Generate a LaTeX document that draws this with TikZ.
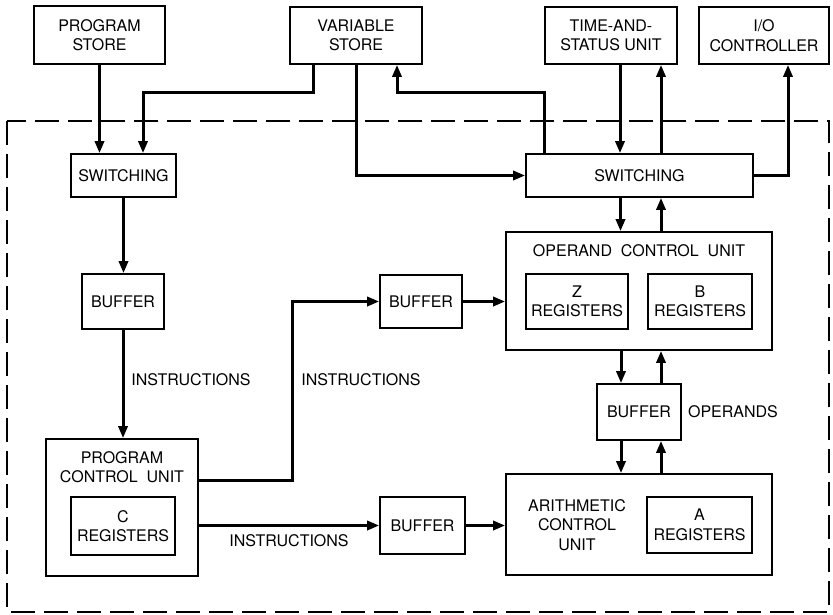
\documentclass[tikz,border=0pt]{standalone}
\usepackage{fontspec}
\setmainfont{TeX Gyre Heros}
\usetikzlibrary{arrows.meta}

\begin{document}
\begin{tikzpicture}[x=1pt,y=-1pt,
		box/.style={draw, line width=1.6pt, inner sep=0pt, align=center, font=\fontsize{16}{19.5}\selectfont},
		txt/.style={inner sep=0pt, align=center, font=\fontsize{16}{19.5}\selectfont},
		flow/.style={line width=3pt, -{Triangle[length=12pt,width=9pt]}},
		frame/.style={line width=1.5pt, dash pattern=on 24pt off 9pt}]
		\useasboundingbox (0,0) rectangle (833,614);

		% outer dashed frame
		\draw[frame] (7,121) rectangle (829,612);

		% stores and units outside the frame
		\node[box, minimum width=131pt, minimum height=58pt] (pstore) at (99.5,35) {PROGRAM\\STORE};
		\node[box, minimum width=132pt, minimum height=57pt] (vstore) at (356,35.5) {VARIABLE\\STORE};
		\node[box, minimum width=132pt, minimum height=57pt] (tsu) at (611,35.5) {TIME-AND-\\STATUS UNIT};
		\node[box, minimum width=130pt, minimum height=57pt] (ioc) at (764,35.5) {I/O\\CONTROLLER};

		% switching
		\node[box, minimum width=105pt, minimum height=43pt] (swl) at (123.5,175.5) {SWITCHING};
		\node[box, minimum width=227pt, minimum height=43pt] (swr) at (639.5,175.5) {SWITCHING};

		% buffers
		\node[box, minimum width=82pt, minimum height=55pt] (bufl) at (123,301.5) {BUFFER};
		\node[box, minimum width=82pt, minimum height=53pt] (bufm) at (421,301.5) {BUFFER};
		\node[box, minimum width=85pt, minimum height=57pt] (bufb) at (422.5,525.5) {BUFFER};
		\node[box, minimum width=84pt, minimum height=56pt] (bufo) at (639,412) {BUFFER};

		% control units
		\node[box, minimum width=266pt, minimum height=118pt] (ocu) at (639,291) {};
		\node[txt] (ocut) at (639,251) {OPERAND\ \ CONTROL\ \ UNIT};
		\node[box, minimum width=102pt, minimum height=55pt] (zreg) at (577,301.5) {Z\\REGISTERS};
		\node[box, minimum width=104pt, minimum height=55pt] (breg) at (700,301.5) {B\\REGISTERS};

		\node[box, minimum width=266pt, minimum height=101pt] (acu) at (639,524.5) {};
		\node[txt] (acut) at (577,525) {ARITHMETIC\\CONTROL\\UNIT};
		\node[box, minimum width=105pt, minimum height=56pt] (areg) at (699.5,525) {A\\REGISTERS};

		\node[box, minimum width=152pt, minimum height=137pt] (pcu) at (122,507.5) {};
		\node[txt] (pcut) at (122,467) {PROGRAM\\CONTROL\ \ UNIT};
		\node[box, minimum width=104pt, minimum height=58pt] (creg) at (123,526) {C\\REGISTERS};

		% labels
		\node[txt] (ins1) at (191,380) {INSTRUCTIONS};
		\node[txt] (ins2) at (361,380) {INSTRUCTIONS};
		\node[txt] (ins3) at (289,541) {INSTRUCTIONS};
		\node[txt] (opnd) at (733,412) {OPERANDS};

		% program side
		\draw[flow] (pstore.south) -- (pstore.south |- swl.north);
		\draw[flow] ([xshift=-43pt]vstore.south) -- ++(0,28) -| ([xshift=19.5pt]swl.north);
		\draw[flow] (swl.south) -- (swl.south |- bufl.north);
		\draw[flow] (bufl.south) -- (bufl.south |- pcu.north);
		\draw[flow] ([yshift=27.5pt]pcu.east) -- ++(94,0) |- (bufm.west);
		\draw[flow] (pcu.east |- bufb.west) -- (bufb.west);
		\draw[flow] (bufm.east) -- (bufm.east -| ocu.west);
		\draw[flow] (bufb.east) -- (bufb.east -| acu.west);

		% operand side
		\draw[flow] (vstore.south) |- (swr.west);
		\draw[flow] ([xshift=-95.5pt]swr.north) |- ([xshift=41pt,yshift=-28pt]vstore.south) -- ([xshift=41pt]vstore.south);
		\draw[flow] ([xshift=9pt]tsu.south) -- ([xshift=9pt]tsu.south |- swr.north);
		\draw[flow] ([xshift=50pt]tsu.south |- swr.north) -- ([xshift=50pt]tsu.south);
		\draw[flow] (swr.east) -| ([xshift=24pt]ioc.south);
		\draw[flow] ([xshift=-19pt]swr.south) -- ([xshift=-19pt]swr.south |- ocu.north);
		\draw[flow] ([xshift=21.5pt]swr.south |- ocu.north) -- ([xshift=21.5pt]swr.south);
		\draw[flow] ([xshift=-18pt]ocu.south) -- ([xshift=-18pt]ocu.south |- bufo.north);
		\draw[flow] ([xshift=22pt]ocu.south |- bufo.north) -- ([xshift=22pt]ocu.south);
		\draw[flow] ([xshift=-18pt]ocu.south |- bufo.south) -- ([xshift=-18pt]ocu.south |- acu.north);
		\draw[flow] ([xshift=22pt]ocu.south |- acu.north) -- ([xshift=22pt]ocu.south |- bufo.south);
	\end{tikzpicture}
\end{document}
